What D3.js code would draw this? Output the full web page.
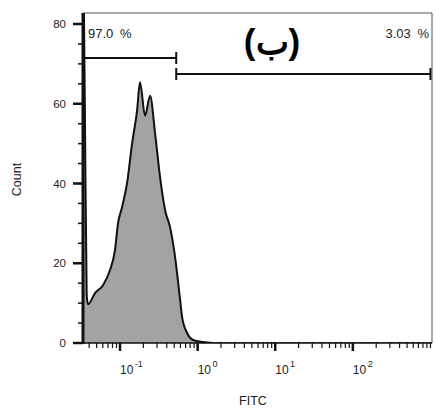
<!DOCTYPE html>
<html>
<head>
<meta charset="utf-8">
<script src="https://cdn.jsdelivr.net/npm/d3@7"></script>
<style>
  html, body { margin: 0; padding: 0; background: #fff; overflow: hidden; }
  svg { display: block; }
  text { font-family: "Liberation Sans", Arial, sans-serif; fill: #222; }
</style>
</head>
<body>
<svg id="chart"></svg>
<script>
  const width = 435;
  const height = 409;

  // histogram (FITC intensity, event count)
  const fitc = [0.0338, 0.0352, 0.0372, 0.0387, 0.0476, 0.0604, 0.0743, 0.0861, 0.0942, 0.106,
    0.123, 0.143, 0.166, 0.181, 0.21, 0.244, 0.283, 0.328, 0.381, 0.442,
    0.513, 0.595, 0.631, 0.733, 0.875, 1.18, 1.58];
  const counts = [95, 60, 12, 9.7, 12.5, 14.5, 18.3, 23.3, 30, 34,
    40, 50, 58.4, 65.4, 57, 62, 52.6, 41.6, 33.3, 29,
    21.5, 10.8, 6.5, 2.5, 0.75, 0.25, 0];

  const yTicks = [0, 20, 40, 60, 80];
  const xTickExps = [-1, 0, 1, 2];

  // gates: [from, to, label]
  const gateLeft = [0.0333, 0.53, '97.0 %'];
  const gateRight = [0.53, 1000, '3.03 %'];

  const margin = { top: 13, right: 3, bottom: 66, left: 83 };
  const innerWidth = width - margin.left - margin.right;
  const innerHeight = height - margin.top - margin.bottom;

  const svg = d3.select('#chart')
    .attr('width', width)
    .attr('height', height);

  const x = d3.scaleLog()
    .domain([Math.pow(10, -1.477), Math.pow(10, 3.02)])
    .range([0, innerWidth]);
  const y = d3.scaleLinear()
    .domain([0, 82.76])
    .range([innerHeight, 0]);

  const g = svg.append('g')
    .attr('transform', `translate(${margin.left},${margin.top})`);

  g.append('clipPath').attr('id', 'clip')
    .append('rect')
      .attr('width', innerWidth)
      .attr('height', innerHeight);

  const data = fitc.map((v, i) => ({ v, c: counts[i] }));

  const area = d3.area()
    .x(d => x(d.v))
    .y0(y(0))
    .y1(d => y(d.c))
    .curve(d3.curveMonotoneX);
  const line = d3.line()
    .x(d => x(d.v))
    .y(d => y(d.c))
    .curve(d3.curveMonotoneX);

  const plot = g.append('g').attr('clip-path', 'url(#clip)');
  plot.append('path')
    .datum(data)
    .attr('d', area)
    .attr('fill', '#a3a3a3');
  plot.append('path')
    .datum(data)
    .attr('d', line)
    .attr('fill', 'none')
    .attr('stroke', '#111')
    .attr('stroke-width', 2);
  plot.append('line')
    .attr('x1', x(1.58)).attr('x2', innerWidth)
    .attr('y1', y(0)).attr('y2', y(0))
    .attr('stroke', '#111').attr('stroke-width', 1.5);

  // frame top/right
  g.append('path')
    .attr('d', `M0,0H${innerWidth}V${innerHeight}`)
    .attr('fill', 'none')
    .attr('stroke', '#555')
    .attr('stroke-width', 1);

  // y axis
  const yMinor = d3.range(0, 81, 5);
  const yAxis = g.append('g');
  yAxis.selectAll('line.minor').data(yMinor)
    .enter().append('line')
      .attr('x1', -5).attr('x2', 0)
      .attr('y1', d => y(d)).attr('y2', d => y(d))
      .attr('stroke', '#111').attr('stroke-width', 1.5);
  yAxis.selectAll('line.major').data(yTicks)
    .enter().append('line')
      .attr('x1', -10).attr('x2', 0)
      .attr('y1', d => y(d)).attr('y2', d => y(d))
      .attr('stroke', '#111').attr('stroke-width', 2.5);
  yAxis.selectAll('text').data(yTicks)
    .enter().append('text')
      .attr('x', -17)
      .attr('y', d => y(d))
      .attr('dy', '0.35em')
      .attr('text-anchor', 'end')
      .attr('font-size', 11.5)
      .text(d => d);
  yAxis.append('line')
    .attr('x1', 0).attr('x2', 0)
    .attr('y1', 0).attr('y2', innerHeight + 1)
    .attr('stroke', '#111').attr('stroke-width', 3);

  // x axis
  const xMinor = [];
  for (let e = -2; e <= 3; e++)
    for (let k = 1; k <= 9; k++) {
      const v = k * Math.pow(10, e);
      if (v >= x.domain()[0] && v <= x.domain()[1]) xMinor.push(v);
    }
  const xAxis = g.append('g').attr('transform', `translate(0,${innerHeight})`);
  xAxis.append('line')
    .attr('x1', 0).attr('x2', innerWidth)
    .attr('stroke', '#111').attr('stroke-width', 1.5);
  xAxis.selectAll('line.minor').data(xMinor)
    .enter().append('line')
      .attr('x1', d => x(d)).attr('x2', d => x(d))
      .attr('y1', 0).attr('y2', 5)
      .attr('stroke', '#111').attr('stroke-width', 1.2);
  xAxis.selectAll('line.major').data(xTickExps)
    .enter().append('line')
      .attr('x1', d => x(Math.pow(10, d))).attr('x2', d => x(Math.pow(10, d)))
      .attr('y1', 0).attr('y2', 8)
      .attr('stroke', '#111').attr('stroke-width', 2.5);
  const xl = xAxis.selectAll('text').data(xTickExps)
    .enter().append('text')
      .attr('x', d => x(Math.pow(10, d)))
      .attr('y', 31)
      .attr('font-size', 12);
  xl.append('tspan').text('10');
  xl.append('tspan')
    .attr('dy', -7)
    .attr('dx', 1.5)
    .attr('font-size', 9)
    .text(d => d);

  // axis titles
  svg.append('text')
    .attr('x', 253)
    .attr('y', 405)
    .attr('text-anchor', 'middle')
    .attr('font-size', 12.5)
    .text('FITC');
  svg.append('text')
    .attr('transform', `translate(21,${margin.top + y(40) - 4}) rotate(-90)`)
    .attr('text-anchor', 'middle')
    .attr('font-size', 12.5)
    .text('Count');

  // gates
  const drawGate = (gate, yPos, labelX, anchor) => {
    const [a, b, label] = gate;
    const x0 = Math.max(0, x(a)), x1 = Math.min(innerWidth, x(b));
    const gg = g.append('g');
    gg.append('line')
      .attr('x1', x0).attr('x2', x1)
      .attr('y1', yPos).attr('y2', yPos)
      .attr('stroke', '#111').attr('stroke-width', 2);
    [x0, x1].forEach(xx => gg.append('line')
      .attr('x1', xx).attr('x2', xx)
      .attr('y1', yPos - 6).attr('y2', yPos + 6)
      .attr('stroke', '#111').attr('stroke-width', 2));
    gg.append('text')
      .attr('x', labelX)
      .attr('y', 25)
      .attr('text-anchor', anchor)
      .attr('font-size', 13)
      .style('word-spacing', '3px')
      .text(label);
  };
  drawGate(gateLeft, 45, 5, 'start');
  drawGate(gateRight, 61, innerWidth - 3, 'end');

  svg.append('text')
    .attr('x', 272)
    .attr('y', 54)
    .attr('text-anchor', 'middle')
    .attr('font-size', 35)
    .attr('font-weight', 'bold')
    .style('fill', '#000')
    .text('(ب)');
</script>
</body>
</html>
